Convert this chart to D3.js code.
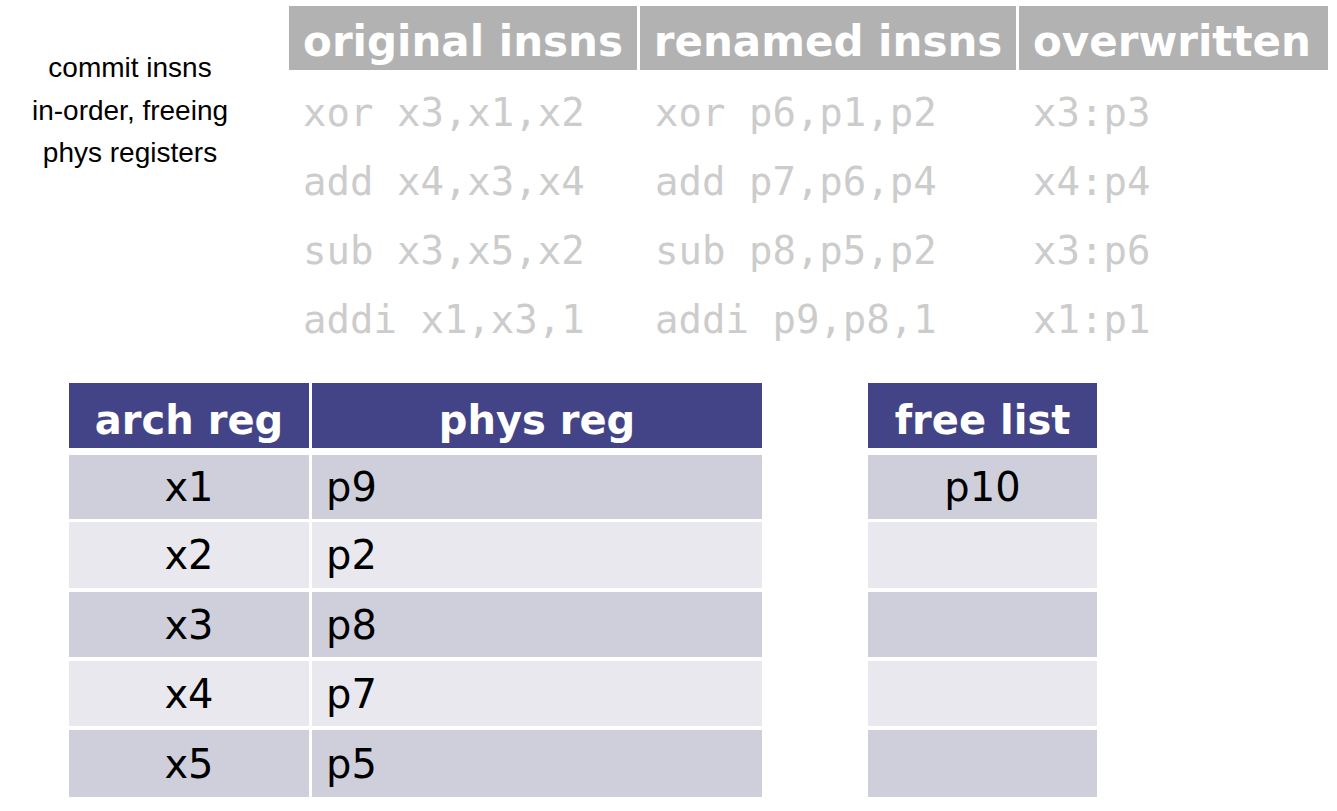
<!DOCTYPE html><html><head><meta charset="utf-8"><script src="https://cdn.jsdelivr.net/npm/d3@7"></script>
<style>body{margin:0;background:#fff}</style></head><body><svg id="c" width="1337" height="811"></svg>
<script>
const topHeaders=["original insns","renamed insns","overwritten"];
const original=["xor x3,x1,x2","add x4,x3,x4","sub x3,x5,x2","addi x1,x3,1"];
const renamed=["xor p6,p1,p2","add p7,p6,p4","sub p8,p5,p2","addi p9,p8,1"];
const overwritten=["x3:p3","x4:p4","x3:p6","x1:p1"];
const noteLines=["commit insns","in-order, freeing","phys registers"];
const archRegs=["x1","x2","x3","x4","x5"];
const physRegs=["p9","p2","p8","p7","p5"];
const freeList=["p10","","","",""];
const svg=d3.select("#c");
const sans="'DejaVu Sans',Verdana,sans-serif";
// top header
const topCols=[[289,637],[640,1016],[1019,1328]];
const textX=[303,655,1033];
topCols.forEach((c,i)=>{
 svg.append("rect").attr("x",c[0]).attr("y",6).attr("width",c[1]-c[0]).attr("height",64).attr("fill","#b2b2b2");
 svg.append("text").attr("x",i==2?1033:(c[0]+c[1])/2).attr("y",56).attr("text-anchor",i==2?"start":"middle")
  .attr("font-family",sans).attr("font-weight","bold").attr("font-size",42).attr("fill","#fff").text(topHeaders[i]);
});
const yRow=d3.scaleLinear().domain([0,1]).range([126,195]);
[original,renamed,overwritten].forEach((arr,ci)=>arr.forEach((t,r)=>{
 svg.append("text").attr("x",textX[ci]).attr("y",yRow(r)).attr("font-family","'DejaVu Sans Mono',monospace")
  .attr("font-size",39).attr("fill","#cccccc").attr("xml:space","preserve").text(t);
}));
noteLines.forEach((t,i)=>svg.append("text").attr("x",130).attr("y",77+i*42.5).attr("text-anchor","middle")
 .attr("font-family","'Liberation Sans',Arial,sans-serif").attr("font-size",28).attr("fill","#000").text(t));
// bottom tables
const rowTops=[455,522,592,661,730],rowBots=[519,588,657,726,797];
function table(cols,headers,data,aligns){
 cols.forEach((c,i)=>{
  svg.append("rect").attr("x",c[0]).attr("y",383).attr("width",c[1]-c[0]).attr("height",65).attr("fill","#434487");
  svg.append("text").attr("x",(c[0]+c[1])/2).attr("y",434).attr("text-anchor","middle").attr("font-family",sans)
   .attr("font-weight","bold").attr("font-size",40).attr("fill","#fff").text(headers[i]);
  data[i].forEach((t,r)=>{
   svg.append("rect").attr("x",c[0]).attr("y",rowTops[r]).attr("width",c[1]-c[0]).attr("height",rowBots[r]-rowTops[r])
    .attr("fill",r%2==0?"#cfcfdc":"#e8e8ee");
   svg.append("text").attr("x",aligns[i]=="middle"?(c[0]+c[1])/2:c[0]+14).attr("y",(rowTops[r]+rowBots[r])/2+14)
    .attr("text-anchor",aligns[i]).attr("font-family",sans).attr("font-size",40).attr("fill","#000").text(t);
  });
 });
}
table([[69,309],[312,762]],["arch reg","phys reg"],[archRegs,physRegs],["middle","start"]);
table([[868,1097]],["free list"],[freeList],["middle"]);
</script></body></html>
